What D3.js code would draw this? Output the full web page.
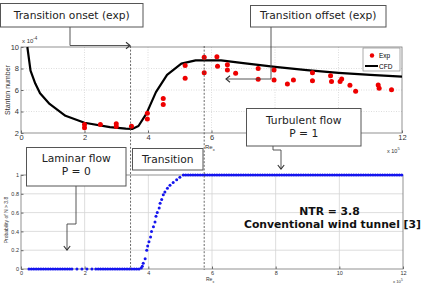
<!DOCTYPE html>
<html>
<head>
<meta charset="utf-8">
<script src="https://cdn.jsdelivr.net/npm/d3@7"></script>
<style>
  html, body { margin: 0; padding: 0; background: #fff; }
  svg { display: block; font-family: "Liberation Sans", Arial, sans-serif; }
  .ann text { font-family: "DejaVu Sans", sans-serif; fill: #222; }
</style>
</head>
<body>
<svg id="chart" width="429" height="284"></svg>
<script>
// Re_x in units of 1e5, Stanton number in units of 1e-4
const expRe = [2.0, 2.0, 2.5, 3.0, 3.0, 3.48, 3.98, 3.98, 4.48, 4.48, 5.17, 5.17, 5.77, 5.77,
               6.17, 6.19, 6.5, 6.5, 6.76, 7.47, 7.47, 7.97, 7.97, 8.39, 8.58, 9.18, 9.18,
               9.75, 9.78, 10.05, 10.1, 10.36, 10.54, 11.25, 11.28, 11.67];
const expSt = [2.8, 2.5, 2.8, 2.85, 2.6, 2.62, 3.83, 3.3, 5.2, 4.65, 8.28, 7.1, 9.05, 7.6,
               9.1, 8.2, 8.35, 7.85, 7.55, 8.0, 7.0, 7.85, 6.93, 6.56, 6.93, 7.6, 6.86,
               7.32, 6.78, 6.78, 7.02, 6.45, 5.88, 6.47, 6.16, 6.03];

const cfdRe = [0.2, 0.3, 0.45, 0.6, 0.9, 1.4, 2.0, 2.8, 3.3, 3.5, 3.7, 3.95, 4.25, 4.6,
               5.05, 5.5, 6.3, 7.0, 8.0, 9.0, 10.0, 11.0, 12.0];
const cfdSt = [10.0, 7.8, 6.6, 5.7, 4.7, 3.6, 2.95, 2.55, 2.4, 2.38, 2.65, 3.8, 5.8, 7.4,
               8.45, 8.75, 8.75, 8.5, 8.15, 7.85, 7.6, 7.4, 7.25];

// probability that N > 3.8, rising part of the curve
const probRe  = [3.78, 3.81, 3.84, 3.9, 3.95, 3.98, 4.02, 4.07, 4.1, 4.16, 4.21, 4.24, 4.28,
                 4.34, 4.37, 4.42, 4.47, 4.52, 4.6, 4.68, 4.78, 4.89, 4.99];
const probVal = [0.01, 0.03, 0.06, 0.11, 0.2, 0.245, 0.29, 0.34, 0.4, 0.45, 0.5, 0.56, 0.6,
                 0.65, 0.7, 0.74, 0.79, 0.82, 0.86, 0.89, 0.92, 0.95, 0.975];
// flat runs of the probability curve
const plateauFrom = [0.25, 1.6, 2.35, 5.1];
const plateauTo   = [1.6, 2.35, 3.75, 12];
const plateauVal  = [0, 0, 0, 1];

const transitionRe = [3.45, 5.77];   // exp onset / offset

const xTicks = [0, 2, 4, 6, 8, 10, 12];
const stTicks = [2, 4, 6, 8, 10];
const probTicks = [0, 0.2, 0.4, 0.6, 0.8, 1];

const svg = d3.select('#chart');

// ---------- scales ----------
const xTop = d3.scaleLinear().domain([0, 12]).range([21, 402]);
const yTop = d3.scaleLinear().domain([2, 10]).range([133, 47]);
const xBot = d3.scaleLinear().domain([0, 12]).range([21, 403]);
const yBot = d3.scaleLinear().domain([0, 1]).range([269, 175]);

function panel(x, y, xt, yt, gridDash, tickFont, xLabelPad, yFmt) {
    let g = svg.append('g');
    // grid
    g.append('g').selectAll('line').data(xt.slice(1, -1)).join('line')
        .attr('x1', d => x(d)).attr('x2', d => x(d))
        .attr('y1', y.range()[0]).attr('y2', y.range()[1])
        .attr('stroke', '#d4d4d4').attr('stroke-width', 0.8)
        .attr('stroke-dasharray', gridDash);
    g.append('g').selectAll('line').data(yt.slice(1, -1)).join('line')
        .attr('y1', d => y(d)).attr('y2', d => y(d))
        .attr('x1', x.range()[0]).attr('x2', x.range()[1])
        .attr('stroke', '#d4d4d4').attr('stroke-width', 0.8)
        .attr('stroke-dasharray', gridDash);
    // axes
    let ax = g.append('g').attr('transform', `translate(0,${y.range()[0]})`)
        .call(d3.axisBottom(x).tickValues(xt).tickSizeInner(-2.5).tickSizeOuter(0).tickPadding(xLabelPad));
    let ay = g.append('g').attr('transform', `translate(${x.range()[0]},0)`)
        .call(d3.axisLeft(y).tickValues(yt).tickSizeInner(-2.5).tickSizeOuter(0).tickPadding(2).tickFormat(yFmt));
    [ax, ay].forEach(a => {
        a.select('.domain').remove();
        a.selectAll('line').attr('stroke', '#666');
        a.selectAll('text').attr('font-size', tickFont).attr('fill', '#333');
    });
    // frame
    g.append('rect')
        .attr('x', x.range()[0]).attr('y', y.range()[1])
        .attr('width', x.range()[1] - x.range()[0])
        .attr('height', y.range()[0] - y.range()[1])
        .attr('fill', 'none').attr('stroke', '#777').attr('stroke-width', 0.8);
    return g;
}

panel(xTop, yTop, xTicks, stTicks, '1,1.5', 7.5, 2, d3.format('d'));
panel(xBot, yBot, xTicks, probTicks, null, 5.5, 2, d => d === 0 || d === 1 ? d : d3.format('.1f')(d));

// ---------- top: Stanton number ----------
let cfd = d3.line().x(d => xTop(d[0])).y(d => yTop(d[1]));
svg.append('path')
    .attr('d', cfd(cfdRe.map((r, i) => [r, cfdSt[i]])))
    .attr('fill', 'none').attr('stroke', '#000').attr('stroke-width', 2.2)
    .attr('stroke-linejoin', 'round');

svg.append('g').selectAll('circle').data(expRe).join('circle')
    .attr('cx', d => xTop(d))
    .attr('cy', (d, i) => yTop(expSt[i]))
    .attr('r', 2.5)
    .attr('fill', '#ee0000');

// legend
let lg = svg.append('g');
lg.append('rect').attr('x', 363).attr('y', 48).attr('width', 37).attr('height', 23)
    .attr('fill', '#fff').attr('stroke', '#888').attr('stroke-width', 0.7);
lg.append('circle').attr('cx', 372).attr('cy', 55.5).attr('r', 2.2).attr('fill', '#ee0000');
lg.append('line').attr('x1', 365).attr('x2', 378).attr('y1', 66).attr('y2', 66)
    .attr('stroke', '#000').attr('stroke-width', 2);
lg.append('text').attr('x', 379).attr('y', 58).attr('font-size', 6.5).text('Exp');
lg.append('text').attr('x', 379).attr('y', 68.5).attr('font-size', 6.5).text('CFD');

// axis labels, top
svg.append('text').attr('transform', 'translate(9.5,90) rotate(-90)')
    .attr('text-anchor', 'middle').attr('font-size', 7).attr('fill', '#333').text('Stanton number');
let e4 = svg.append('text').attr('x', 22).attr('y', 43).attr('font-size', 6).attr('fill', '#333');
e4.append('tspan').text('x 10');
e4.append('tspan').attr('dy', -3).attr('font-size', 4.5).text('-4');
let rx = svg.append('text').attr('x', 205).attr('y', 149).attr('font-size', 6).attr('fill', '#333');
rx.append('tspan').text('Re');
rx.append('tspan').attr('dy', 2).attr('font-size', 4).text('x');
let e5 = svg.append('text').attr('x', 387).attr('y', 153).attr('font-size', 5.5).attr('fill', '#333');
e5.append('tspan').text('x 10');
e5.append('tspan').attr('dy', -3).attr('font-size', 4).text('5');

// ---------- bottom: probability ----------
let probG = svg.append('g');
plateauFrom.forEach((x0, i) => {
    probG.append('line')
        .attr('x1', xBot(x0)).attr('x2', xBot(plateauTo[i]))
        .attr('y1', yBot(plateauVal[i])).attr('y2', yBot(plateauVal[i]))
        .attr('stroke', '#1515ee').attr('stroke-width', 3)
        .attr('stroke-linecap', 'round')
        .attr('stroke-dasharray', i === 1 ? '0 5' : '0 2.4');
});
probG.selectAll('circle').data(probRe).join('circle')
    .attr('cx', d => xBot(d))
    .attr('cy', (d, i) => yBot(probVal[i]))
    .attr('r', 1.5)
    .attr('fill', '#1515ee');

svg.append('text').attr('transform', 'translate(7.5,220) rotate(-90)')
    .attr('text-anchor', 'middle').attr('font-size', 5).attr('fill', '#333').text('Probability of N > 3.8');
let rx2 = svg.append('text').attr('x', 206).attr('y', 281).attr('font-size', 5).attr('fill', '#333');
rx2.append('tspan').text('Re');
rx2.append('tspan').attr('dy', 1.5).attr('font-size', 3.5).text('x');
let e5b = svg.append('text').attr('x', 393).attr('y', 283).attr('font-size', 4.2).attr('fill', '#333');
e5b.append('tspan').text('x 10');
e5b.append('tspan').attr('dy', -2).attr('font-size', 3.2).text('5');

// transition onset / offset markers, across both panels
svg.append('g').selectAll('line').data(transitionRe).join('line')
    .attr('x1', d => xTop(d)).attr('x2', d => xTop(d))
    .attr('y1', 46).attr('y2', 270)
    .attr('stroke', '#444').attr('stroke-width', 0.8)
    .attr('stroke-dasharray', '2,1.6');

svg.append('text').attr('x', 329.5).attr('y', 215).attr('text-anchor', 'middle')
    .attr('font-family', 'DejaVu Sans').attr('font-weight', 'bold').attr('font-size', 10.8)
    .attr('fill', '#111').text('NTR = 3.8');
svg.append('text').attr('x', 332.5).attr('y', 228).attr('text-anchor', 'middle')
    .attr('font-family', 'DejaVu Sans').attr('font-weight', 'bold').attr('font-size', 10.8)
    .attr('fill', '#111').text('Conventional wind tunnel [3]');

// ---------- annotation boxes ----------
const ann = svg.append('g').attr('class', 'ann');
function box(x, y, w, h, lines, baselines) {
    ann.append('rect').attr('x', x).attr('y', y).attr('width', w).attr('height', h)
        .attr('fill', '#fff').attr('stroke', '#555').attr('stroke-width', 1);
    lines.forEach((t, i) => {
        ann.append('text').attr('x', x + w / 2).attr('y', baselines[i])
            .attr('text-anchor', 'middle').attr('font-size', 10.7).text(t);
    });
}
function connector(pts, head) {
    ann.append('path').attr('d', d3.line()(pts))
        .attr('fill', 'none').attr('stroke', '#444').attr('stroke-width', 0.9);
    let [hx, hy] = pts[pts.length - 1];
    let s = 4;
    let hp = head === 'right' ? [[hx - s, hy - s * 0.8], [hx, hy], [hx - s, hy + s * 0.8]]
           : head === 'left' ? [[hx + s, hy - s * 0.8], [hx, hy], [hx + s, hy + s * 0.8]]
           : [[hx - s * 0.8, hy - s], [hx, hy], [hx + s * 0.8, hy - s]];
    ann.append('path').attr('d', d3.line()(hp))
        .attr('fill', 'none').attr('stroke', '#333').attr('stroke-width', 1.1);
}

connector([[70, 27], [70, 45.5], [130, 45.5]], 'right');
box(0.5, 3.5, 142.5, 23.5, ['Transition onset (exp)'], [18.5]);

connector([[271, 27], [271, 79], [226, 79]], 'left');
box(250.5, 5.5, 135.5, 21.5, ['Transition offset (exp)'], [18.5]);

connector([[273, 146], [273, 150], [281, 150], [281, 169]], 'down');
box(246.5, 108.5, 114.5, 37.5, ['Turbulent flow', 'P = 1'], [123.5, 136.5]);

connector([[76, 186], [76, 224], [67, 224], [67, 250]], 'down');
box(26.5, 147.5, 99.5, 38.5, ['Laminar flow', 'P = 0'], [161.5, 174.5]);

box(132.5, 148.5, 70.5, 21.5, ['Transition'], [162.7]);
</script>
</body>
</html>
